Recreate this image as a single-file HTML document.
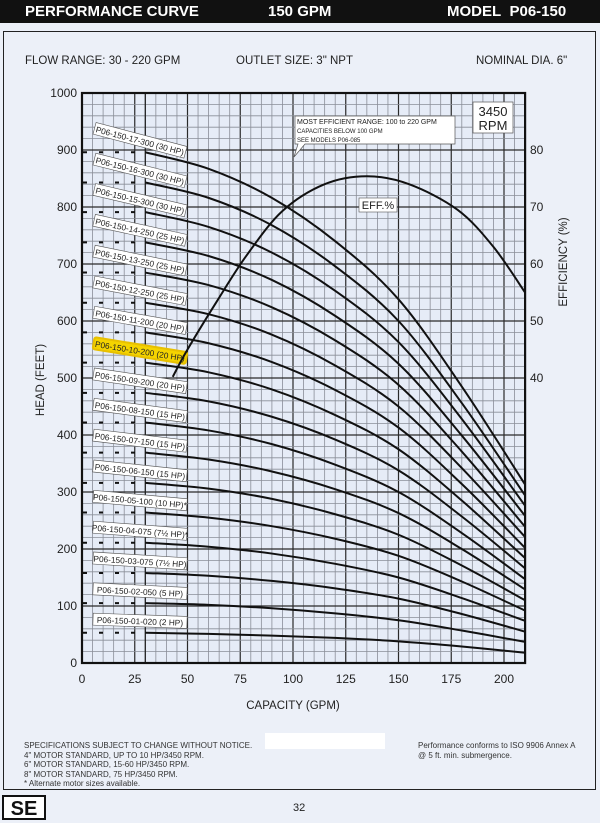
<!DOCTYPE html>
<html><head><meta charset="utf-8">
<style>
html,body{margin:0;padding:0;}
body{width:600px;height:823px;background:#ecf0f8;position:relative;overflow:hidden;font-family:"Liberation Sans",sans-serif;}
.hdr{position:absolute;left:0;top:0;width:600px;height:23px;background:#111;color:#fff;font-weight:bold;font-size:15px;}
.hdr span{position:absolute;top:3px;}
.panel{position:absolute;left:3px;top:31px;width:591px;height:757px;border:1.5px solid #222;background:#ecf0f8;}
.t{position:absolute;color:#222;white-space:nowrap;}
</style></head><body>
<div class="hdr">
<span style="left:25px">PERFORMANCE CURVE</span>
<span style="left:268px">150 GPM</span>
<span style="left:447px">MODEL&nbsp; P06-150</span>
</div>
<div class="panel"></div>
<div class="t" style="left:25px;top:55px;font-size:11.5px">FLOW RANGE: 30 - 220 GPM</div>
<div class="t" style="left:236px;top:55px;font-size:11.5px">OUTLET SIZE: 3" NPT</div>
<div class="t" style="left:476px;top:55px;font-size:11.5px">NOMINAL DIA. 6"</div>

<svg id="chart" width="600" height="823" style="position:absolute;left:0;top:0"></svg>

<div class="t" style="left:24px;top:741px;font-size:8px;line-height:9.5px;color:#333">SPECIFICATIONS SUBJECT TO CHANGE WITHOUT NOTICE.<br>4" MOTOR STANDARD, UP TO 10 HP/3450 RPM.<br>6" MOTOR STANDARD, 15-60 HP/3450 RPM.<br>8" MOTOR STANDARD, 75 HP/3450 RPM.<br>* Alternate motor sizes available.</div>
<div style="position:absolute;left:265px;top:733px;width:120px;height:16px;background:#fff"></div>
<div class="t" style="left:418px;top:741px;font-size:8px;line-height:9.5px;color:#333">Performance conforms to ISO 9906 Annex A<br>@ 5 ft. min. submergence.</div>
<div style="position:absolute;left:2px;top:795px;width:44px;height:25px;border:2px solid #111;background:#fff;font-weight:bold;font-size:20px;line-height:24px;text-align:center;color:#111;box-sizing:border-box">SE</div>
<div class="t" style="left:293px;top:802px;font-size:11px">32</div>

<script>
const flows = [30,60,90,120,150,180,210];
const stageHeads = [
[53,51,48,44,38,29,18],
[105,102,96,87,75,57,37],
[158,153,144,131,113,86,55],
[211,204,192,174,150,114,74],
[264,255,240,218,188,143,92],
[316,306,288,261,225,171,110],
[369,357,336,305,263,200,129],
[422,408,384,348,300,228,147],
[474,459,432,392,338,257,166],
[527,510,480,435,375,285,184],
[580,561,528,479,413,314,202],
[632,612,576,522,450,342,221],
[685,663,624,566,488,371,239],
[738,714,672,609,525,399,258],
[791,765,720,653,563,428,276],
[843,816,768,696,600,456,294],
[896,867,816,740,638,485,313]];
const modelLabels = ["P06-150-01-020 (2 HP)","P06-150-02-050 (5 HP)","P06-150-03-075 (7½ HP)","P06-150-04-075 (7½ HP)*","P06-150-05-100 (10 HP)*","P06-150-06-150 (15 HP)","P06-150-07-150 (15 HP)","P06-150-08-150 (15 HP)","P06-150-09-200 (20 HP)","P06-150-10-200 (20 HP)","P06-150-11-200 (20 HP)","P06-150-12-250 (25 HP)","P06-150-13-250 (25 HP)","P06-150-14-250 (25 HP)","P06-150-15-300 (30 HP)","P06-150-16-300 (30 HP)","P06-150-17-300 (30 HP)"];
const effFlows = [43,50,64,78,95,115,135,155,178,195,210];
const effValues = [40.2,45,53.5,61.5,69.3,74,75.4,74,69.5,63,55];
const xTicks = [0,25,50,75,100,125,150,175,200];
const yTicks = [0,100,200,300,400,500,600,700,800,900,1000];
const effTicks = [40,50,60,70,80];

const NS="http://www.w3.org/2000/svg";
const svg=document.getElementById('chart');
const X=q=>82+q*2.11;
const Y=h=>663-h*0.57;
const E=e=>606-(e)*5.7;
const XMAX=210;
function el(tag,attrs,parent){const e=document.createElementNS(NS,tag);for(const k in attrs)e.setAttribute(k,attrs[k]);(parent||svg).appendChild(e);return e;}
function smooth(pts){let d=`M${pts[0][0]},${pts[0][1]}`;for(let i=0;i<pts.length-1;i++){const p0=pts[i-1]||pts[i],p1=pts[i],p2=pts[i+1],p3=pts[i+2]||p2;const c1=[p1[0]+(p2[0]-p0[0])/6,p1[1]+(p2[1]-p0[1])/6],c2=[p2[0]-(p3[0]-p1[0])/6,p2[1]-(p3[1]-p1[1])/6];d+=`C${c1[0]},${c1[1]} ${c2[0]},${c2[1]} ${p2[0]},${p2[1]}`;}return d;}

const bg=el('rect',{x:X(0),y:Y(1000),width:X(XMAX)-X(0),height:Y(0)-Y(1000),fill:'#e6ecf7'});


const grid=el('g',{});


for(let q=5;q<XMAX;q+=5){const major=q%25===0;el('line',{x1:X(q),x2:X(q),y1:Y(0),y2:Y(1000),stroke:major?'#2a2a2a':'#8a8e98','stroke-width':major?1.2:0.8},grid);}
for(let h=20;h<1000;h+=20){const major=h%100===0;el('line',{x1:X(0),x2:X(XMAX),y1:Y(h),y2:Y(h),stroke:major?'#2a2a2a':'#8a8e98','stroke-width':major?1.2:0.8},grid);}
el('line',{x1:X(30),x2:X(30),y1:Y(0),y2:Y(1000),stroke:'#222','stroke-width':1.3},grid);
const frame=el('rect',{x:X(0),y:Y(1000),width:X(XMAX)-X(0),height:Y(0)-Y(1000),fill:'none',stroke:'#111','stroke-width':2.2});



xTicks.forEach(v=>{const t=el('text',{x:X(v),y:683,'font-size':12,'text-anchor':'middle',fill:'#222','font-family':'Liberation Sans'});t.textContent=v;

});
yTicks.forEach(v=>{const t=el('text',{x:77,y:Y(v)+4,'font-size':12,'text-anchor':'end',fill:'#222','font-family':'Liberation Sans'});t.textContent=v;

});
effTicks.forEach(v=>{const t=el('text',{x:530,y:E(v)+4,'font-size':12,fill:'#222','font-family':'Liberation Sans'});t.textContent=v;

});

let at=el('text',{x:293,y:709,'font-size':11.5,'text-anchor':'middle',fill:'#222','font-family':'Liberation Sans'});at.textContent='CAPACITY (GPM)';


at=el('text',{x:0,y:0,'font-size':11.5,'text-anchor':'middle',fill:'#222','font-family':'Liberation Sans',transform:'translate(44,380) rotate(-90)'});at.textContent='HEAD (FEET)';


at=el('text',{x:0,y:0,'font-size':11.5,'text-anchor':'middle',fill:'#222','font-family':'Liberation Sans',transform:'translate(567,262) rotate(-90)'});at.textContent='EFFICIENCY (%)';



stageHeads.forEach((hs,i)=>{
  const pts=flows.map((f,j)=>[X(f),Y(hs[j])]);
  const p=el('path',{d:smooth(pts),fill:'none',stroke:'#111','stroke-width':2});
  
  
  const d=el('line',{x1:X(0)+1,x2:X(27),y1:Y(hs[0]),y2:Y(hs[0]),stroke:'#111','stroke-width':2,'stroke-dasharray':'4,12'});
  
  
  const cy=Y(hs[0])-12, rot=2+i*0.8;
  const g=el('g',{transform:`translate(140,${cy}) rotate(${rot})`});
  
  
  el('rect',{x:-47,y:-6,width:94,height:12,fill:i===9?'#f5d400':'#fff',stroke:i===9?'#e8c000':'#555','stroke-width':i===9?2:0.6,rx:i===9?2:0},g);
  const t=el('text',{x:0,y:3.5,'font-size':8.3,'text-anchor':'middle',fill:'#222','font-family':'Liberation Sans'},g);t.textContent=modelLabels[i];
});

const ep=el('path',{d:smooth(effFlows.map((f,j)=>[X(f),E(effValues[j])])),fill:'none',stroke:'#111','stroke-width':2});


const eg=el('g',{});


el('rect',{x:359,y:198,width:38,height:14,fill:'#fff',stroke:'#555','stroke-width':0.6},eg);
let et=el('text',{x:378,y:209,'font-size':11,'text-anchor':'middle',fill:'#222','font-family':'Liberation Sans'},eg);et.textContent='EFF.%';

const cg=el('g',{});


el('path',{d:'M295,116 H455 V144 H305 L294,157 L298,144 H295 Z',fill:'#fff',stroke:'#555','stroke-width':0.7},cg);
[['MOST EFFICIENT RANGE: 100 to 220 GPM',124,7],['CAPACITIES BELOW 100 GPM',133,6],['SEE MODELS P06-085',142,6]].forEach(a=>{const t=el('text',{x:297,y:a[1],'font-size':a[2],fill:'#222','font-family':'Liberation Sans'},cg);t.textContent=a[0];});

const rg=el('g',{});


el('rect',{x:473,y:102,width:40,height:31,fill:'#fff',stroke:'#555','stroke-width':0.7},rg);
let r1=el('text',{x:493,y:116,'font-size':13,'text-anchor':'middle',fill:'#222','font-family':'Liberation Sans'},rg);r1.textContent='3450';
let r2=el('text',{x:493,y:130,'font-size':13,'text-anchor':'middle',fill:'#222','font-family':'Liberation Sans'},rg);r2.textContent='RPM';
</script>
</body></html>
